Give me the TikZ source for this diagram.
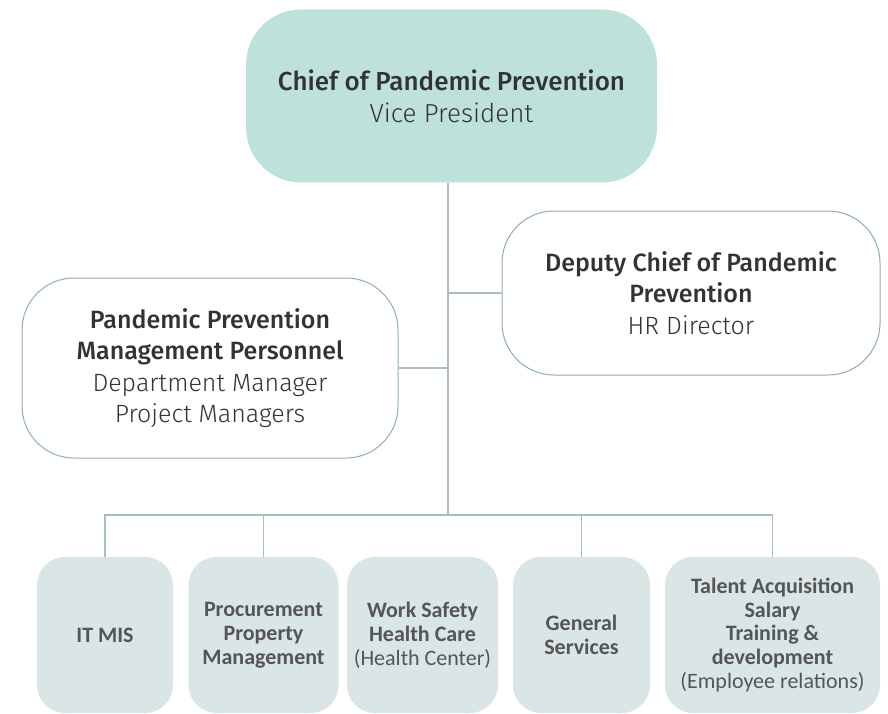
\documentclass[tikz,border=0pt]{standalone}
\usepackage{fontspec}
\setmainfont{Fira Sans}[BoldFont={Fira Sans Medium}]
\newfontfamily\lightfont{Fira Sans Light}
\newfontfamily\unitfont{Carlito}
\definecolor{chieffill}{HTML}{BFE1DB}
\definecolor{roleline}{HTML}{8CAEB0}
\definecolor{linkline}{HTML}{A6C0C2}
\definecolor{unitfill}{HTML}{DAE5E6}
\definecolor{headtext}{HTML}{333333}
\definecolor{unittext}{HTML}{555555}
\tikzset{
  chiefbox/.style={fill=chieffill, rounded corners=55pt, minimum width=411pt,
    minimum height=173pt, align=center, text=headtext,
    font=\fontsize{26}{32}\selectfont},
  rolebox/.style={draw=roleline, line width=1pt, fill=white, rounded corners=52pt,
    align=center, text=headtext, font=\fontsize{25}{31.5}\selectfont},
  unitbox/.style={fill=unitfill, rounded corners=28pt, minimum height=156pt,
    align=center, text=unittext, inner sep=0pt,
    font=\unitfont\bfseries\fontsize{22}{23.8}\selectfont},
  link/.style={draw=linkline, line width=1.2pt}
}
\begin{document}
\begin{tikzpicture}[x=1pt, y=-1pt]
  \useasboundingbox (0,0) rectangle (888,714);
  % top of the chart
  \node[chiefbox] (chief) at (451.5,96) {\textbf{Chief of Pandemic Prevention}\\{\lightfont Vice President}};
  % deputy and management boxes
  \node[rolebox, minimum width=378pt, minimum height=164pt] (deputy) at (691,293)
    {\textbf{Deputy Chief of Pandemic}\\\textbf{Prevention}\\{\lightfont HR Director}};
  \node[rolebox, minimum width=376pt, minimum height=180pt] (mgmt) at (210,368)
    {\textbf{Pandemic Prevention}\\\textbf{Management Personnel}\\{\lightfont Department Manager}\\{\lightfont Project Managers}};
  % unit boxes along the bottom
  \node[unitbox, minimum width=136pt] (itmis) at (105,635) {IT MIS};
  \node[unitbox, minimum width=150pt] (procure) at (263.5,635) {Procurement\\Property\\Management};
  \node[unitbox, minimum width=151pt] (safety) at (422.5,635) {Work Safety\\Health Care\\{\mdseries (Health Center)}};
  \node[unitbox, minimum width=137pt] (general) at (581.5,635) {General\\Services};
  \node[unitbox, minimum width=215pt] (talent) at (772.5,635) {Talent Acquisition\\Salary\\Training \&\\development\\{\mdseries (Employee relations)}};
  % trunk and branches
  \coordinate (bar) at (448,515);
  \draw[link] (bar |- chief.south) -- (bar);
  \draw[link] (bar |- deputy.west) -- (deputy.west);
  \draw[link] (mgmt.east) -- (bar |- mgmt.east);
  \draw[link] (itmis.north) -- (itmis.north |- bar) -- (talent.north |- bar) -- (talent.north);
  \draw[link] (procure.north) -- (procure.north |- bar);
  \draw[link] (general.north) -- (general.north |- bar);
\end{tikzpicture}
\end{document}
